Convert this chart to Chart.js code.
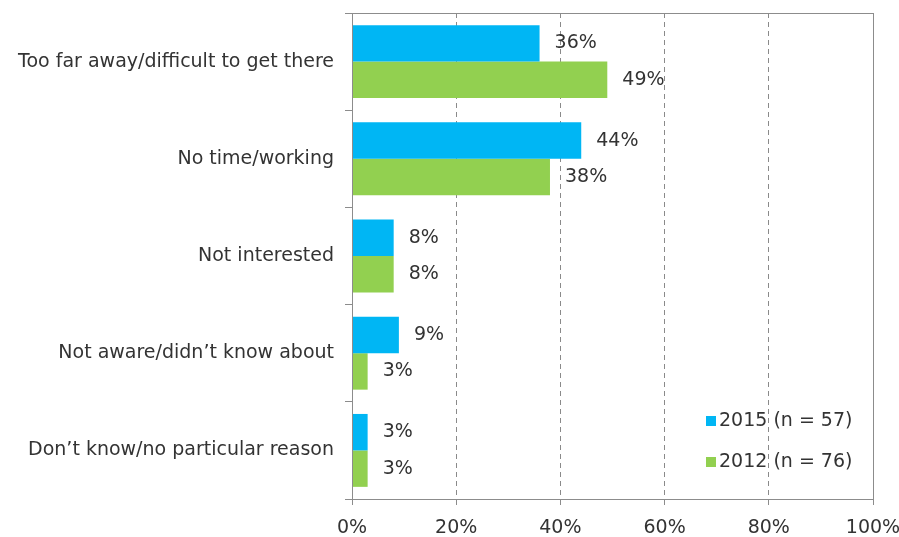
<!DOCTYPE html>
<html lang="en">
<head>
    <meta charset="UTF-8">
    <title>Reasons</title>
    <style>
        body { margin: 0; background: #fff; }
    </style>
</head>
<body>
    <canvas id="myChart" width="899" height="537"></canvas>

<script src="https://cdn.jsdelivr.net/npm/chart.js"></script>
<script>
const reasons = [
    'Too far away/difficult to get there',
    'No time/working',
    'Not interested',
    'Not aware/didn’t know about',
    'Don’t know/no particular reason'
]
const values2015 = [36, 44, 8, 9, 3]
const values2012 = [49, 38, 8, 3, 3]
const seriesNames = ['2015 (n = 57)', '2012 (n = 76)']
const xTicks = [0, 20, 40, 60, 80, 100]

const FONT = 'DejaVu Sans'
const FONT_SIZE = 19
const textColor = '#333'

// value labels at the end of each bar + solid frame round the plot + legend in the corner
const extras = {
    id: 'extras',
    afterDatasetsDraw(chart) {
        const {ctx, chartArea: {top, bottom, left, right}} = chart
        ctx.save()
        ctx.font = FONT_SIZE + 'px "' + FONT + '"'
        ctx.fillStyle = textColor
        ctx.textBaseline = 'middle'
        ctx.textAlign = 'left'
        chart.data.datasets.forEach((ds, i) => {
            chart.getDatasetMeta(i).data.forEach((bar, j) => {
                ctx.fillText(ds.data[j] + '%', bar.x + 15, bar.y)
            })
        })

        ctx.strokeStyle = '#8c8c8c'
        ctx.lineWidth = 1
        ctx.strokeRect(Math.round(left) + 0.5, Math.round(top) + 0.5,
            Math.round(right - left), Math.round(bottom - top))

        // legend
        const lx = 706, ly = [421, 462]
        chart.data.datasets.forEach((ds, i) => {
            ctx.fillStyle = ds.backgroundColor
            ctx.fillRect(lx, ly[i] - 5, 10, 10)
            ctx.fillStyle = textColor
            ctx.fillText(ds.label, lx + 13, ly[i])
        })
        ctx.restore()
    }
}

const ctx = document.getElementById('myChart')
const chart = new Chart(ctx, {
    type: 'bar',
    data: {
        labels: reasons,
        datasets: [
            {label: seriesNames[0], data: values2015, backgroundColor: '#00b6f4'},
            {label: seriesNames[1], data: values2012, backgroundColor: '#92d050'}
        ]
    },
    options: {
        indexAxis: 'y',
        responsive: false,
        animation: false,
        layout: {padding: {top: 13, right: 26, left: 0, bottom: 0}},
        datasets: {bar: {categoryPercentage: 0.75, barPercentage: 1}},
        plugins: {
            legend: {display: false},
            tooltip: {enabled: false}
        },
        scales: {
            x: {
                min: 0,
                max: 100,
                afterFit(scale) {
                    scale.height = 38
                    scale.paddingLeft = 0
                    scale.paddingRight = 0
                },
                afterBuildTicks(scale) { scale.ticks = xTicks.map(v => ({value: v})) },
                ticks: {
                    callback: v => v + '%',
                    color: textColor,
                    font: {family: FONT, size: FONT_SIZE},
                    padding: 12,
                    maxRotation: 0
                },
                grid: {
                    color: ctx => (ctx.tick && (ctx.tick.value === 0 || ctx.tick.value === 100)) ? 'rgba(0,0,0,0)' : '#8a8a8a',
                    tickColor: '#8c8c8c',
                    tickLength: 6,
                    tickBorderDash: []
                },
                border: {display: false, dash: [5, 4]}
            },
            y: {
                afterFit(scale) {
                    scale.width = 352
                    scale.paddingTop = 0
                    scale.paddingBottom = 0
                },
                ticks: {
                    color: textColor,
                    font: {family: FONT, size: FONT_SIZE},
                    padding: 11
                },
                grid: {
                    drawOnChartArea: false,
                    tickColor: '#8c8c8c',
                    tickLength: 7
                },
                border: {display: false}
            }
        }
    },
    plugins: [extras]
})
</script>
</body>
</html>
